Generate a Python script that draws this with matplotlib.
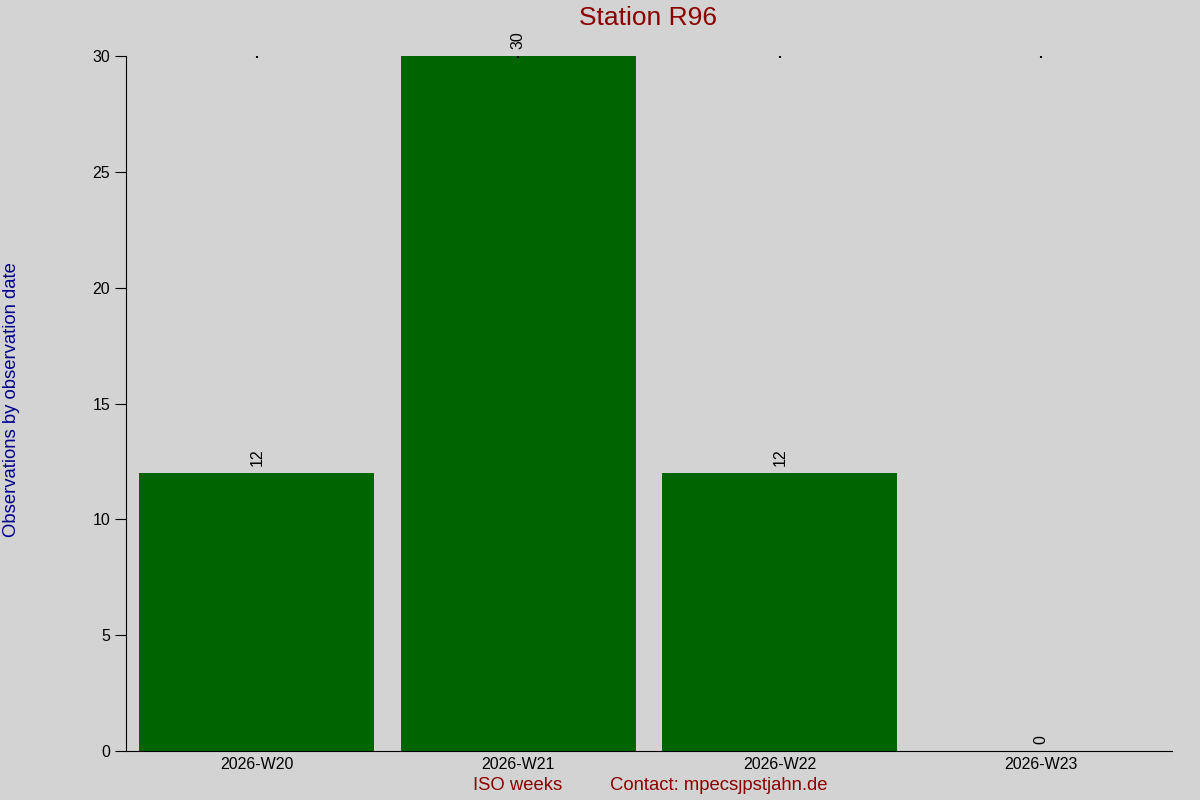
import matplotlib
matplotlib.use('Agg')
import matplotlib.pyplot as plt

plt.rcParams['font.family'] = ['Liberation Sans', 'DejaVu Sans']

# data
weeks = ['2026-W20', '2026-W21', '2026-W22', '2026-W23']
counts = [12, 30, 12, 0]
yticks = [0, 5, 10, 15, 20, 25, 30]

bg = '#d3d3d3'
fig = plt.figure(figsize=(12, 8), dpi=100, facecolor=bg)
ax = fig.add_axes([0.105, 0.06125, 0.8717, 0.86875], facecolor=bg)

x = list(range(len(weeks)))
bars = ax.bar(x, counts, width=0.9, color='#006400')
for xi, c in zip(x, counts):
    ax.annotate(str(c), (xi, c), xytext=(0, 5), textcoords='offset points',
                rotation=90, ha='center', va='bottom', fontsize=11.5)

ax.set_xlim(-0.5, 3.5)
ax.set_ylim(0, 30)
ax.set_xticks(x)
ax.set_xticklabels(weeks, fontsize=11.5)
ax.set_yticks(yticks)
ax.tick_params(axis='y', labelsize=11.5, length=8, direction='out')
ax.tick_params(axis='x', bottom=False, top=True, direction='in',
               length=1.5, width=1.5, pad=4)

for s in ['top', 'right']:
    ax.spines[s].set_visible(False)

fig.text(0.54, 0.977, 'Station R96', ha='center', va='center',
         fontsize=19, color='#8b0000')
fig.text(0.0095, 0.5, 'Observations by observation date', rotation=90,
         ha='center', va='center', fontsize=13.3, color='#00008b')
fig.text(0.4317, 0.0175, 'ISO weeks', ha='center', va='center',
         fontsize=13.3, color='#8b0000')
fig.text(0.599, 0.0175, 'Contact: mpecs\u0237pstjahn.de', ha='center', va='center',
         fontsize=13.3, color='#8b0000')

fig.savefig('out.png', dpi=100, facecolor=bg)
